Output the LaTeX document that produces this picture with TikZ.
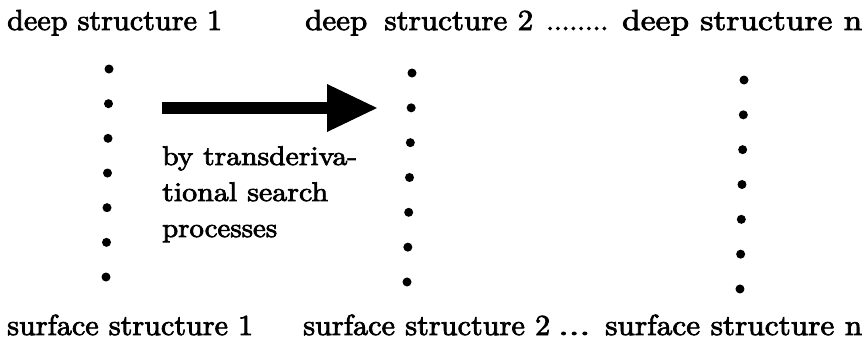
\documentclass[tikz,border=0pt]{standalone}
\usepackage{fontspec}
\newfontfamily\reffont{lmroman10-regular.otf}[FakeBold=2.5]
\newcommand\wtxt[2]{\resizebox{#1}{\height}{#2}}
\begin{document}
\begin{tikzpicture}[x=1pt,y=-1pt,
  txt/.style={font=\reffont\fontsize{29}{35}\selectfont, inner sep=0pt, anchor=base west},
  lbl/.style={font=\reffont\fontsize{27}{33}\selectfont, inner sep=0pt, anchor=base west},
  dot/.style={circle, fill=black, inner sep=0pt, minimum size=9pt}]
\useasboundingbox (0,0) rectangle (865,343);
% top row
\node[txt] (ds1) at (7,30) {\wtxt{215pt}{deep structure 1}};
\node[txt] (ds2) at (305,30) {\wtxt{228pt}{deep\hspace{0.55em}structure 2}};
\node[txt] (dsdots) at (546,30) {\wtxt{62pt}{........}};
\node[txt] (dsn) at (622,30) {\wtxt{240pt}{deep structure n}};
% bottom row
\node[txt] (ss1) at (7,335) {\wtxt{246pt}{surface structure 1}};
\node[txt] (ss2) at (303,335) {\wtxt{247pt}{surface structure 2}};
\node[txt] (ssdots) at (558,335) {\wtxt{32pt}{...}};
\node[txt] (ssn) at (605,335) {\wtxt{257pt}{surface structure n}};
% dotted columns
\foreach \i in {0,...,6} {
  \node[dot] (a\i) at ({109-0.5*\i},{69+34.67*\i}) {};
  \node[dot] (b\i) at ({412-0.83*\i},{73+34.83*\i}) {};
  \node[dot] (c\i) at ({744-0.67*\i},{80+34.83*\i}) {};
}
% arrow
\coordinate (as) at (162,108);
\coordinate (ab) at (330,108);
\coordinate (at) at (377,108);
\draw[line width=12pt] (as) -- (ab);
\fill (327,84) -- (at) -- (327,132) -- cycle;
% label
\node[lbl] (l1) at (162,165) {\wtxt{195pt}{by transderiva-}};
\node[lbl] (l2) at (162,201) {\wtxt{166pt}{tional search}};
\node[lbl] (l3) at (162,237) {\wtxt{115pt}{processes}};
\end{tikzpicture}
\end{document}
